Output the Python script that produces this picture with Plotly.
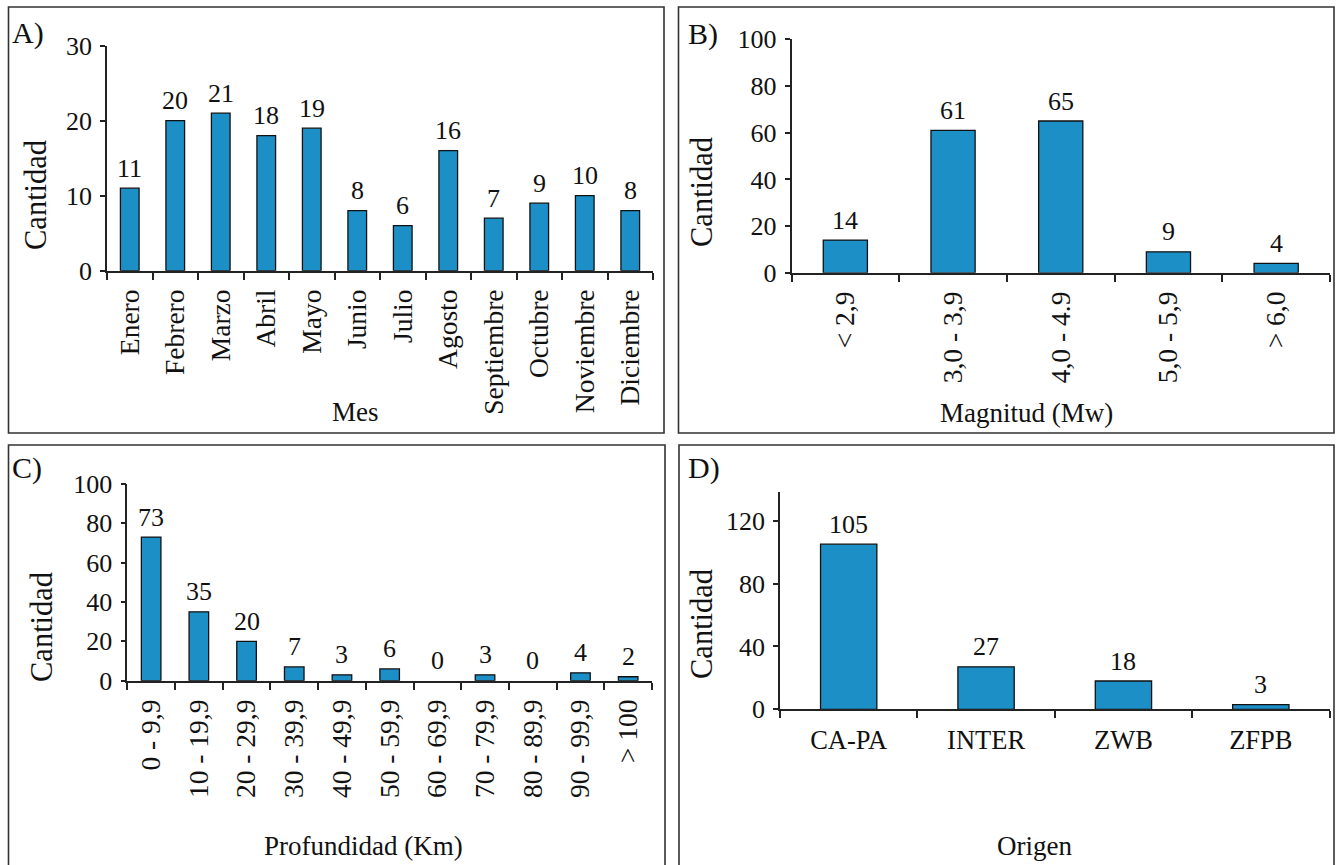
import plotly.graph_objects as go

W, H = 1336, 865

# ---------------- data ----------------
meses = ["Enero", "Febrero", "Marzo", "Abril", "Mayo", "Junio", "Julio",
         "Agosto", "Septiembre", "Octubre", "Noviembre", "Diciembre"]
cant_mes = [11, 20, 21, 18, 19, 8, 6, 16, 7, 9, 10, 8]

magnitudes = ["< 2,9", "3,0 - 3,9", "4,0 - 4.9", "5,0 - 5,9", "> 6,0"]
cant_mag = [14, 61, 65, 9, 4]

profundidades = ["0 - 9,9", "10 - 19,9", "20 - 29,9", "30 - 39,9", "40 - 49,9",
                 "50 - 59,9", "60 - 69,9", "70 - 79,9", "80 - 89,9", "90 - 99,9", "> 100"]
cant_prof = [73, 35, 20, 7, 3, 6, 0, 3, 0, 4, 2]

origenes = ["CA-PA", "INTER", "ZWB", "ZFPB"]
cant_orig = [105, 27, 18, 3]

# ---------------- style ----------------
FONT = "Liberation Serif"
BAR = "#1c8fc7"
AX = "#222222"

def px(x):
    return x / W

def py(y):
    return 1 - y / H

panels = [
    dict(cats=meses, vals=cant_mes, xd=(107, 653), yd=(270.7, 45.7), yr=(0, 30),
         tv=[0, 10, 20, 30], ang=-90, tfs=27.5),
    dict(cats=magnitudes, vals=cant_mag, xd=(791.5, 1330), yd=(272.8, 39.3), yr=(0, 100),
         tv=[0, 20, 40, 60, 80, 100], ang=-90, tfs=27.5),
    dict(cats=profundidades, vals=cant_prof, xd=(127.3, 652), yd=(680.7, 484), yr=(0, 100),
         tv=[0, 20, 40, 60, 80, 100], ang=-90, tfs=27.5),
    dict(cats=origenes, vals=cant_orig, xd=(780, 1329.5), yd=(709.3, 491.7), yr=(0, 138.4),
         tv=[0, 40, 80, 120], ang=0, tfs=26.5),
]

fig = go.Figure()
annotations = []

for i, p in enumerate(panels, start=1):
    xa = "x" if i == 1 else f"x{i}"
    ya = "y" if i == 1 else f"y{i}"
    fig.add_trace(go.Bar(
        x=p["cats"], y=p["vals"], xaxis=xa, yaxis=ya, width=0.41,
        marker=dict(color=BAR, line=dict(color="#111111",
                                         width=[0 if v == 0 else 1.3 for v in p["vals"]])),
        showlegend=False, hoverinfo="x+y",
    ))
    xkey = "xaxis" if i == 1 else f"xaxis{i}"
    ykey = "yaxis" if i == 1 else f"yaxis{i}"
    fig.layout[xkey] = dict(
        domain=[px(p["xd"][0]), px(p["xd"][1])], anchor=ya,
        type="category", range=[-0.5, len(p["cats"]) - 0.5],
        showline=True, linecolor=AX, linewidth=1.6,
        ticks="outside", tickson="boundaries", ticklen=7, tickwidth=1.5, tickcolor=AX,
        tickangle=p["ang"], tickfont=dict(family=FONT, size=p["tfs"], color="#111"),
        showgrid=False, zeroline=False, automargin=False, fixedrange=True,
        ticklabelstandoff=6,
    )
    fig.layout[ykey] = dict(
        domain=[py(p["yd"][0]), py(p["yd"][1])], anchor=xa,
        range=list(p["yr"]), tickvals=p["tv"],
        showline=True, linecolor=AX, linewidth=1.6,
        ticks="outside", ticklen=5, tickwidth=1.5, tickcolor=AX,
        tickfont=dict(family=FONT, size=26, color="#111"),
        showgrid=False, zeroline=False, automargin=False, fixedrange=True,
        ticklabelstandoff=3,
    )
    for c, v in zip(p["cats"], p["vals"]):
        annotations.append(dict(
            x=c, y=v, xref=xa, yref=ya, text=str(v), showarrow=False,
            yanchor="middle", yshift=20,
            font=dict(family=FONT, size=26, color="#111"),
        ))

def ann(text, x, y, size, angle=0, xanchor="center"):
    annotations.append(dict(
        text=text, x=px(x), y=py(y), xref="paper", yref="paper", showarrow=False,
        xanchor=xanchor, yanchor="middle", textangle=angle,
        font=dict(family=FONT, size=size, color="#111"),
    ))

ann("Mes", 355, 412, 27)
ann("Magnitud (Mw)", 1026, 413, 27)
ann("Profundidad (Km)", 363, 846, 27)
ann("Origen", 1034, 846, 27)

ann("Cantidad", 36, 195, 30.5, angle=-90)
ann("Cantidad", 702, 192, 30.5, angle=-90)
ann("Cantidad", 42, 627, 30.5, angle=-90)
ann("Cantidad", 702, 624, 30.5, angle=-90)

ann("A)", 10, 33, 30, xanchor="left")
ann("B)", 686, 34, 30, xanchor="left")
ann("C)", 10, 468, 30, xanchor="left")
ann("D)", 686, 468, 30, xanchor="left")

shapes = []
for (x0, y0, x1, y1) in [(8.5, 7, 664, 433), (678.5, 7, 1334, 433),
                         (8.5, 445, 665, 880), (679, 445, 1334, 880)]:
    shapes.append(dict(type="rect", xref="paper", yref="paper",
                       x0=px(x0), x1=px(x1), y0=py(y1), y1=py(y0),
                       line=dict(color="#333333", width=1.6), fillcolor="rgba(0,0,0,0)"))

fig.update_layout(
    width=W, height=H, margin=dict(l=0, r=0, t=0, b=0),
    paper_bgcolor="white", plot_bgcolor="white",
    annotations=annotations, shapes=shapes, showlegend=False,
    font=dict(family=FONT, color="#111"),
)

fig.write_html("out.html", config={"displayModeBar": False})
